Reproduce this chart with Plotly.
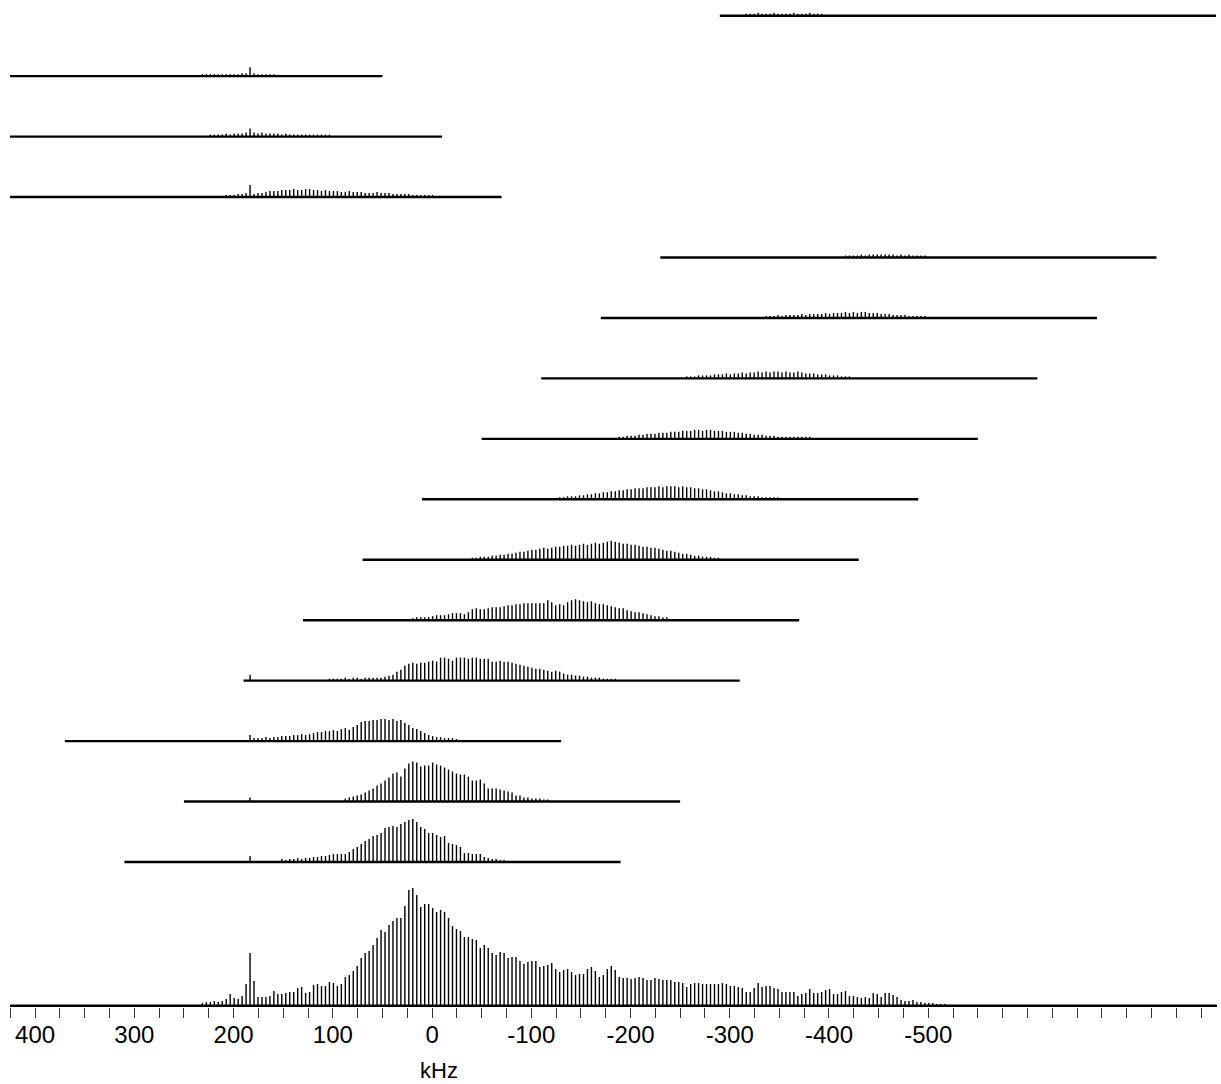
import plotly.graph_objects as go

# ---------------- data ----------------
SPIN_KHZ = 4.0          # sideband spacing (kHz)
N0_KHZ = 183.4          # frequency of sideband n = 0 (kHz)
SUB_WIDTH_KHZ = 500.0   # width of each sub-spectrum window (kHz)

# summed spectrum (bottom), sideband heights starting at n = SUM_FIRST_N
SUM_FIRST_N = -12
SUM_HEIGHTS = [3, 4, 4, 5, 4, 5, 7,
               12, 8, 7, 10, 22, 53, 25, 9, 9, 9, 10, 15, 12, 12, 13, 14, 14, 18, 19, 13, 14, 21, 22, 20, 20,
               24, 23, 20, 22, 29, 31, 35, 40, 48, 53, 55, 61, 68, 76, 74, 81, 85, 88, 88, 100, 116, 118, 111,
               99, 102, 102,
               98, 94, 96, 94, 88, 80, 77, 75, 69, 69, 67, 66, 58, 61, 58, 53, 51, 54, 53, 48, 49, 49, 45, 42,
               44, 45, 45, 39, 40, 41, 43, 37, 34, 36, 37, 34, 31, 32, 32, 37, 39, 35, 29, 31, 37, 40, 36, 29,
               28, 28, 27,
               28, 29, 28, 26, 26, 28, 27, 26, 26, 26, 24, 24, 23, 19, 22, 23, 23, 22, 22, 22, 22, 22, 23, 22,
               20, 20, 19, 18, 14, 14, 18, 23, 19, 20, 20, 18, 17, 14, 14, 14, 14, 10, 12, 13, 17, 13, 13, 14,
               16, 17, 12, 12, 14, 15, 10, 10, 9, 8, 9, 8, 13, 12, 9, 13, 13, 11, 9, 6, 5, 5, 6,
               4, 4, 3, 3, 3, 2, 2, 2]

# sub-spectra, listed in stacking order (bottom -> top)
SUB_OFFSETS_KHZ = [60, 0, 120, -60, -120, -180, -240, -300, -360, -420, -480, 180, 240, 300, -540]
SUB_SPIKE = [6, 4, 6, 6, 0, 0, 0, 0, 0, 0, 0, 12, 8, 9, 0]   # height of the n = 0 line
SUB_FIRST_N = [8, 24, 1, 20, 41, 56, 78, 93, 110, 130, 150, -6, -10, -12, 125]

SUB_P060 = [3, 2, 3, 3, 4, 3, 4, 4, 5, 5, 6, 6, 7,
            8, 8, 8, 8, 10, 13, 15, 18, 21, 23, 26, 27, 29, 34, 35, 36, 35, 38, 40, 42, 43, 40, 35, 33, 29,
            29, 27, 25, 26, 19, 18, 17, 15, 9, 9, 8, 8, 8, 5, 4, 3, 3, 2, 2]
SUB_P000 = [3, 4, 5, 6, 7, 9, 11, 13, 16, 18, 21, 24, 28, 29, 25, 33, 38, 40, 39, 35, 36, 36, 39, 37, 36,
            34, 32, 30, 28, 27, 27, 25, 21, 21, 22, 18, 13, 13, 13, 12, 11, 10, 9, 6, 6, 4, 4, 3, 3, 3, 2, 2]
SUB_P120 = [3, 3, 3, 4, 3, 4, 4, 5, 5, 5, 6, 6, 7, 6, 7, 8, 9, 9, 10, 10, 11, 10, 12, 13, 11, 14, 16,
            19, 20, 20, 21, 21, 22, 22, 21, 22, 20, 21, 18, 16, 13, 12, 10, 8, 6, 5, 4, 4, 3, 3, 3, 2]
SUB_M060 = [2, 2, 2, 2, 3, 2, 3, 3, 2, 3, 3, 3, 3,
            3, 4, 5, 6, 9, 11, 15, 17, 18, 17, 18, 18, 19, 20, 19, 23, 23, 22, 20, 23, 23, 23, 22, 23, 23,
            22, 22, 22, 19, 19, 20, 19, 19, 18, 17, 16, 15, 14, 13, 12, 12, 11, 10, 9, 10, 9, 7,
            6, 6, 5, 5, 4, 4, 3, 3, 3, 2, 2, 2, 2]
SUB_M120 = [2, 3, 3, 3, 3, 4, 5, 5, 5, 6, 7, 7, 7, 6, 8, 11, 12, 11, 11, 12, 13, 13, 13, 14, 15, 15, 16,
            16, 17, 17, 17, 17, 17, 17, 20, 18, 15, 16, 15,
            18, 20, 21, 20, 19, 18, 19, 17, 16, 16, 15, 14, 13, 12, 12, 10, 9, 8, 8, 7, 6, 5, 4, 4, 3, 3]
SUB_M180 = [2, 2, 3, 3, 3, 4, 4, 5, 5, 6, 6, 7, 8, 8, 9, 10, 10, 11, 12, 11, 12, 13, 13, 14, 14, 15, 14,
            15, 16, 15, 16, 17, 16, 17, 18, 19, 18, 17, 16, 16, 15, 15, 14, 13, 13, 12, 12, 11, 10, 9, 9, 8,
            7, 6, 6, 5, 4, 4, 3, 3, 3, 2, 2]
SUB_M240 = [2, 2, 3, 3, 3, 4, 4, 5, 5, 6, 6, 7, 7, 8, 8, 9, 9, 10, 10, 11, 11, 11, 12, 12, 12, 13, 12, 13,
            13, 13, 12, 13, 12, 12, 11, 11, 10, 10, 9, 8, 8, 7, 6, 6, 5, 5, 4, 4, 3, 3, 3, 2, 2, 2, 2, 2]
SUB_M300 = [2, 2, 3, 3, 3, 4, 4, 5, 5, 5, 6, 6, 6, 7, 7, 7, 8, 8, 8, 9, 9, 8, 9, 9, 8, 8, 8, 7, 7, 7, 6,
            6, 5, 5, 4, 4, 4, 3, 3, 3, 2, 2, 2, 2, 2, 2, 2, 2, 2]
SUB_M360 = [2, 2, 2, 3, 3, 3, 3, 4, 4, 4, 5, 4, 5, 5, 6, 5, 6, 6, 7, 6, 7, 6, 7, 7, 6, 7, 6, 6, 7, 6, 5,
            5, 5, 4, 4, 4, 3, 3, 3, 2, 2, 2]
SUB_M420 = [2, 2, 2, 3, 2, 3, 3, 3, 3, 4, 3, 4, 4, 4, 4, 5, 4, 5, 5, 5, 6, 5, 6, 5, 6, 6, 5, 5, 5, 4, 4,
            4, 3, 3, 3, 3, 2, 2, 2, 2, 2]
SUB_M480 = [2, 2, 2, 2, 3, 2, 3, 3, 3, 3, 3, 3, 3, 2, 3, 2, 3, 2, 2, 2, 2]
SUB_P180 = [2, 2, 2, 3, 3, 4, 0,
            3, 4, 4, 5, 6, 6, 6, 7, 7, 7, 8, 7, 7, 8, 8, 7, 7, 6, 7, 6, 6, 6, 5, 5, 6, 5, 5, 5, 4, 4, 4, 5,
            4, 4, 4, 3, 3, 3, 3, 3, 2, 2, 2, 2, 2, 2]
SUB_P240 = [2, 2, 2, 2, 3, 2, 3, 3, 3, 4, 0, 4, 3, 4, 3, 3, 3, 3, 2, 3, 2, 2, 2, 2, 2, 2, 2, 2, 2, 2, 2]
SUB_P300 = [2, 2, 2, 2, 2, 2, 2, 2, 2, 2, 3, 3, 0, 3, 2, 2, 2, 2, 2]
SUB_M540 = [2, 2, 2, 3, 2, 2, 2, 3, 2, 2, 2, 2, 3, 2, 2, 2, 3, 2, 2, 2]

SUB_HEIGHTS = [SUB_P060, SUB_P000, SUB_P120, SUB_M060, SUB_M120, SUB_M180, SUB_M240, SUB_M300,
               SUB_M360, SUB_M420, SUB_M480, SUB_P180, SUB_P240, SUB_P300, SUB_M540]

MAJOR_TICKS = [400, 300, 200, 100, 0, -100, -200, -300, -400, -500]
MAJOR_LABELS = ["400", "300", "200", "100", "0", "-100", "-200", "-300", "-400", "-500"]

# ---------------- layout constants ----------------
X_LEFT, X_RIGHT = 425.3, -791.0
FIRST_GAP = 144.0
STACK_GAP = 60.45
LINE_COLOR = "#000000"


def stick_trace(first_n, heights, base, hi_f, lo_f, spike=0):
    xs, ys = [], []
    if spike > 0 and lo_f <= N0_KHZ <= hi_f:
        xs += [N0_KHZ, N0_KHZ, None]
        ys += [base, base + spike, None]
    for i, h in enumerate(heights):
        f = N0_KHZ - SPIN_KHZ * (first_n + i)
        if h <= 0 or not (lo_f <= f <= hi_f):
            continue
        xs += [f, f, None]
        ys += [base, base + h, None]
    return go.Scatter(x=xs, y=ys, mode="lines", line=dict(color=LINE_COLOR, width=1.4),
                      hoverinfo="skip", showlegend=False)


def baseline_trace(base, hi_f, lo_f, width):
    return go.Scatter(x=[hi_f, lo_f], y=[base, base], mode="lines",
                      line=dict(color=LINE_COLOR, width=width), hoverinfo="skip", showlegend=False)


fig = go.Figure()

# summed spectrum
fig.add_trace(baseline_trace(0, X_LEFT, X_RIGHT, 3.2))
fig.add_trace(stick_trace(SUM_FIRST_N, SUM_HEIGHTS, 0, X_LEFT, X_RIGHT))

# sub-spectra
for k, (off, fn, hts, sp) in enumerate(zip(SUB_OFFSETS_KHZ, SUB_FIRST_N, SUB_HEIGHTS, SUB_SPIKE)):
    base = FIRST_GAP + STACK_GAP * k
    hi_f = off + SUB_WIDTH_KHZ / 2
    lo_f = off - SUB_WIDTH_KHZ / 2
    fig.add_trace(baseline_trace(base, hi_f, lo_f, 2.4))
    fig.add_trace(stick_trace(fn, hts, base, hi_f, lo_f, sp))

fig.add_annotation(text="kHz", xref="paper", yref="paper", x=0.3555, y=-0.0635,
                   xanchor="center", yanchor="middle", showarrow=False,
                   font=dict(family="Liberation Sans, Arial, sans-serif", size=22, color="#000000"))

fig.update_layout(
    width=1221, height=1084,
    margin=dict(l=10, r=4, t=0, b=77),
    paper_bgcolor="white", plot_bgcolor="white",
    showlegend=False,
    font=dict(family="Liberation Sans, Arial, sans-serif", size=24, color="#000000"),
    xaxis=dict(range=[X_LEFT, X_RIGHT], showgrid=False, zeroline=False,
               showline=False,
               tickmode="array", tickvals=MAJOR_TICKS, ticktext=MAJOR_LABELS,
               ticks="outside", ticklen=10, tickwidth=1.3, tickcolor="#333333",
               ticklabelstandoff=-4,
               tickfont=dict(size=24, color="#000000"),
               minor=dict(tickmode="linear", tick0=0, dtick=25, ticks="outside",
                          ticklen=10, tickwidth=1.3, tickcolor="#333333")),
    yaxis=dict(range=[-1, 1006], visible=False, showgrid=False, zeroline=False),
)

fig.write_html("out.html", config={"displayModeBar": False},
               post_script="document.body.style.margin='0';")
